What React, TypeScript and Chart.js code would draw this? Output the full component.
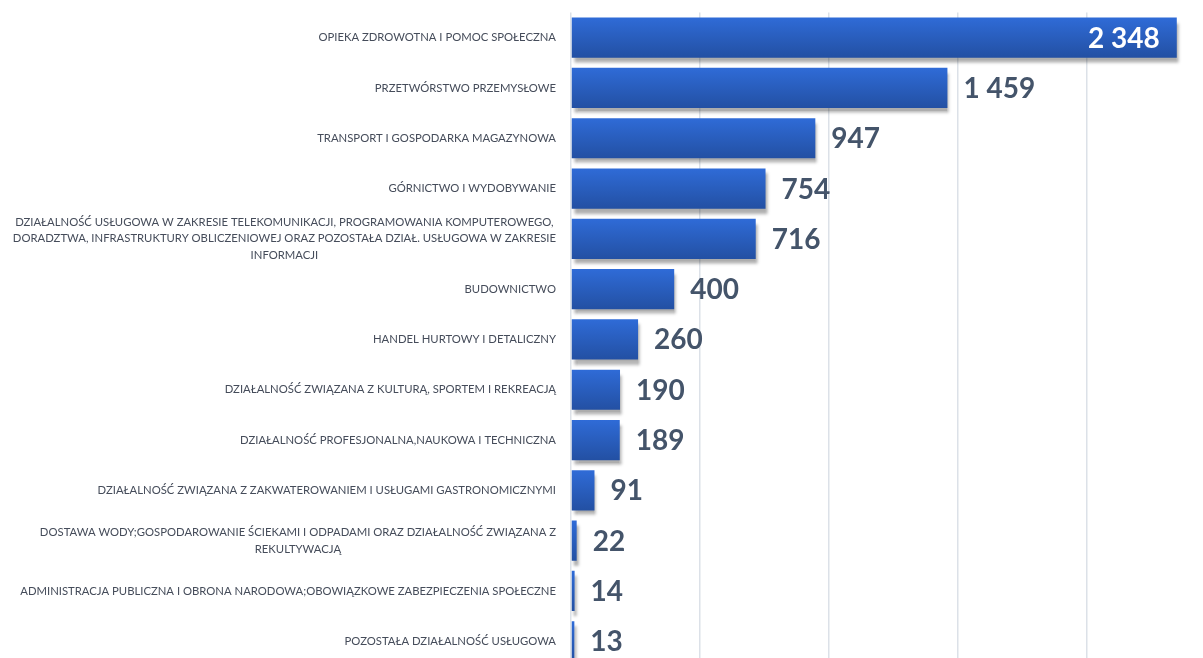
import React, { useEffect, useRef } from "react";
import { Chart, registerables } from "chart.js";

Chart.register(...registerables);

const categories: string[][] = [
  ["OPIEKA ZDROWOTNA I POMOC SPOŁECZNA"],
  ["PRZETWÓRSTWO PRZEMYSŁOWE"],
  ["TRANSPORT I GOSPODARKA MAGAZYNOWA"],
  ["GÓRNICTWO I WYDOBYWANIE"],
  [
    "DZIAŁALNOŚĆ USŁUGOWA W ZAKRESIE TELEKOMUNIKACJI, PROGRAMOWANIA KOMPUTEROWEGO,",
    "DORADZTWA, INFRASTRUKTURY OBLICZENIOWEJ ORAZ POZOSTAŁA DZIAŁ. USŁUGOWA W ZAKRESIE",
    "INFORMACJI",
  ],
  ["BUDOWNICTWO"],
  ["HANDEL HURTOWY I DETALICZNY"],
  ["DZIAŁALNOŚĆ ZWIĄZANA Z KULTURĄ, SPORTEM I REKREACJĄ"],
  ["DZIAŁALNOŚĆ PROFESJONALNA,NAUKOWA I TECHNICZNA"],
  ["DZIAŁALNOŚĆ ZWIĄZANA Z ZAKWATEROWANIEM I USŁUGAMI GASTRONOMICZNYMI"],
  [
    "DOSTAWA WODY;GOSPODAROWANIE ŚCIEKAMI I ODPADAMI ORAZ DZIAŁALNOŚĆ ZWIĄZANA Z",
    "REKULTYWACJĄ",
  ],
  ["ADMINISTRACJA PUBLICZNA I OBRONA NARODOWA;OBOWIĄZKOWE ZABEZPIECZENIA SPOŁECZNE"],
  ["POZOSTAŁA DZIAŁALNOŚĆ USŁUGOWA"],
];

const values: number[] = [2348, 1459, 947, 754, 716, 400, 260, 190, 189, 91, 22, 14, 13];

const xMin = 0;
const xMax = 2500;
const xStep = 500;

const fmt = (v: number) => String(v).replace(/\B(?=(\d{3})+(?!\d))/g, " ");

const BAR_HALF = 20;

const shadowPlugin = {
  id: "barShadow",
  beforeDatasetsDraw(chart: any) {
    const ctx = chart.ctx;
    ctx.save();
    ctx.shadowColor = "rgba(0,0,0,0.32)";
    ctx.shadowBlur = 3;
    ctx.shadowOffsetX = 2;
    ctx.shadowOffsetY = 5;
  },
  afterDatasetsDraw(chart: any) {
    chart.ctx.restore();
  },
};

const labelPlugin = {
  id: "labels",
  afterDraw(chart: any) {
    const ctx = chart.ctx;
    const yScale = chart.scales.y;
    const meta = chart.getDatasetMeta(0);
    ctx.save();
    ctx.font = "11.3px Lato";
    ctx.fillStyle = "#454c5a";
    ctx.textBaseline = "middle";
    ctx.textAlign = "center";
    const right = chart.chartArea.left - 15;
    const lh = 16.5;
    categories.forEach((lines, i) => {
      const cy = yScale.getPixelForValue(i);
      const maxW = Math.max(...lines.map((l) => ctx.measureText(l).width));
      const cx = right - maxW / 2;
      const y0 = cy - ((lines.length - 1) * lh) / 2;
      lines.forEach((l, k) => ctx.fillText(l, cx, y0 + k * lh));
    });
    ctx.font = "bold 28px Lato";
    meta.data.forEach((bar: any, i: number) => {
      const text = fmt(values[i]);
      if (i === 0) {
        ctx.fillStyle = "#ffffff";
        ctx.textAlign = "right";
        ctx.fillText(text, bar.x - 17, bar.y + 1);
      } else {
        ctx.fillStyle = "#44546A";
        ctx.textAlign = "left";
        ctx.fillText(text, bar.x + 16, bar.y + 1);
      }
    });
    ctx.restore();
  },
};

export default function App() {
  const ref = useRef<HTMLCanvasElement | null>(null);
  useEffect(() => {
    if (!ref.current) return;
    const chart = new Chart(ref.current, {
      type: "bar",
      data: {
        labels: categories.map((l) => l.join(" ")),
        datasets: [
          {
            data: values,
            backgroundColor: (c: any) => {
              const ch = c.chart;
              const ys = ch.scales && ch.scales.y;
              if (!ys || c.dataIndex === undefined) return "#2b5fc4";
              const cy = ys.getPixelForValue(c.dataIndex);
              if (!isFinite(cy)) return "#2b5fc4";
              const g = ch.ctx.createLinearGradient(0, cy - BAR_HALF, 0, cy + BAR_HALF);
              g.addColorStop(0, "#2f6bd7");
              g.addColorStop(1, "#2350a3");
              return g;
            },
            borderWidth: 0,
            categoryPercentage: 0.8,
            barPercentage: 1,
          },
        ],
      },
      options: {
        indexAxis: "y",
        responsive: false,
        animation: false,
        layout: { padding: { top: 12.5, bottom: 13.6, left: 0, right: 14 } },
        plugins: { legend: { display: false }, tooltip: { enabled: false } },
        scales: {
          x: {
            type: "linear",
            min: xMin,
            max: xMax,
            ticks: { display: false, stepSize: xStep },
            grid: { color: "#dce1e8", lineWidth: 1.5, drawTicks: false },
            border: { display: false },
            afterFit: (s: any) => {
              s.height = 0;
            },
          },
          y: {
            type: "category",
            ticks: { display: false },
            grid: { display: false, drawTicks: false },
            border: { display: false },
            afterFit: (s: any) => {
              s.width = 571;
            },
          },
        },
      },
      plugins: [shadowPlugin, labelPlugin],
    } as any);
    chart.update();
    return () => chart.destroy();
  }, []);
  return (
    <div
      style={{
        position: "fixed",
        left: 0,
        top: 0,
        width: 1203,
        height: 658,
        overflow: "hidden",
        background: "#ffffff",
      }}
    >
      <canvas ref={ref} width={1230} height={680} style={{ display: "block" }} />
    </div>
  );
}
